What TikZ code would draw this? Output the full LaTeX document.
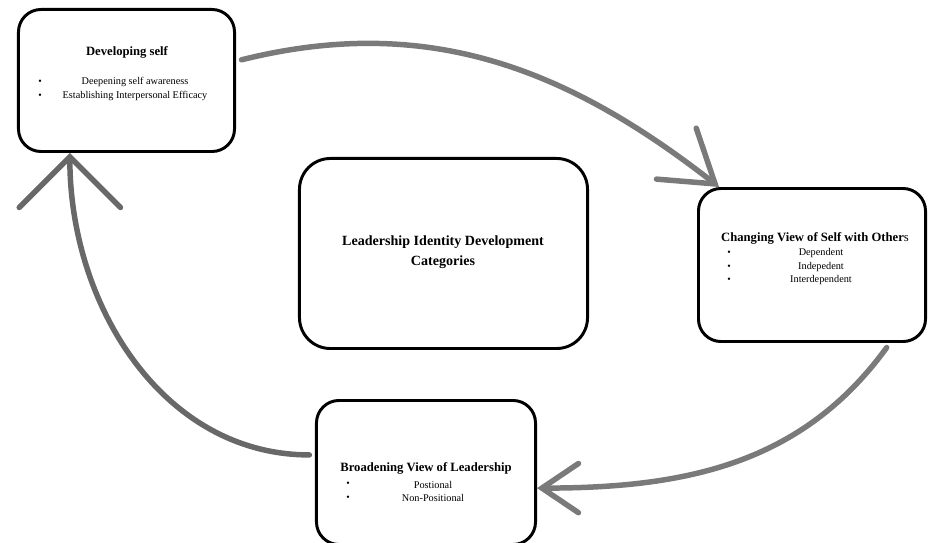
\documentclass[tikz,border=0pt]{standalone}
\usepackage{fontspec}
\setmainfont{Liberation Serif}
\usetikzlibrary{arrows.meta}
\definecolor{arrowgray}{RGB}{122,122,122}
\definecolor{arrowdark}{RGB}{104,104,104}

\begin{document}
\begin{tikzpicture}[%
                x=0.025cm, y=-0.025cm,
                mybox/.style={draw, line width=2.1pt, rounded corners=16pt, inner sep=0pt},
                mytitle/.style={font=\bfseries\fontsize{9}{11}\selectfont, inner sep=0pt},
                myitem/.style={font=\fontsize{7.3}{9}\selectfont, inner sep=0pt},
                mybullet/.style={font=\fontsize{7}{7}\selectfont, inner sep=0pt},
                myarrow/.style={draw=arrowgray, line width=3.9pt, line cap=round, shorten <=4pt}
        ]
            \useasboundingbox (0,0) rectangle (928,543);
            % the four boxes
            \node [mybox, minimum width=5.4cm, minimum height=3.55cm] (dev) at (126.5,80.5) {};
            \node [mybox, rounded corners=22pt, minimum width=7.2cm, minimum height=4.75cm] (ldc) at (443.5,253.5) {};
            \node [mybox, minimum width=5.675cm, minimum height=3.825cm] (chg) at (812,265) {};
            \node [mybox, minimum width=5.475cm, minimum height=3.6cm] (brd) at (426,472.5) {};

            % texts
            \node [font=\bfseries\fontsize{10}{14.2}\selectfont, align=center] (ldtitle) at (443,252)
                {Leadership Identity Development\\Categories};

            \node [mytitle] (devtitle) at (127,52) {Developing self};
            \foreach \txt [count=\i] in {Deepening self awareness, Establishing Interpersonal Efficacy} {
                \node [mybullet] (devb\i) at (40,68+14*\i) {\textbullet};
                \node [myitem] (devi\i) at (135,68+14*\i) {\txt};
            }

            \node [mytitle] (chgtitle) at (815,238) {Changing View of Self with Other{\mdseries s}};
            \foreach \txt [count=\i] in {Dependent, Indepedent, Interdependent} {
                \node [mybullet] (chgb\i) at (729,240+13.5*\i) {\textbullet};
                \node [myitem] (chgi\i) at (821,240+13.5*\i) {\txt};
            }

            \node [mytitle] (brdtitle) at (426,468) {Broadening View of Leadership};
            \foreach \txt [count=\i] in {Postional, Non-Positional} {
                \node [mybullet] (brdb\i) at (348,471+13.5*\i) {\textbullet};
                \node [myitem] (brdi\i) at (433,471+13.5*\i) {\txt};
            }

            % the cycle
            \draw [myarrow, -{Straight Barb[length=35pt, width=46pt, line cap=round]}]
                (dev.10) to[out=14, in=142] (chg.140);
            \draw [myarrow, -{Straight Barb[length=26pt, width=35pt, line cap=round]}]
                (chg.-45) to[out=234, in=0] (brd.-8);
            \draw [myarrow, draw=arrowdark, -{Straight Barb[length=36pt, width=72pt, line cap=round]}]
                (brd.171) to[out=180, in=-90] (dev.232);
        \end{tikzpicture}
\end{document}
